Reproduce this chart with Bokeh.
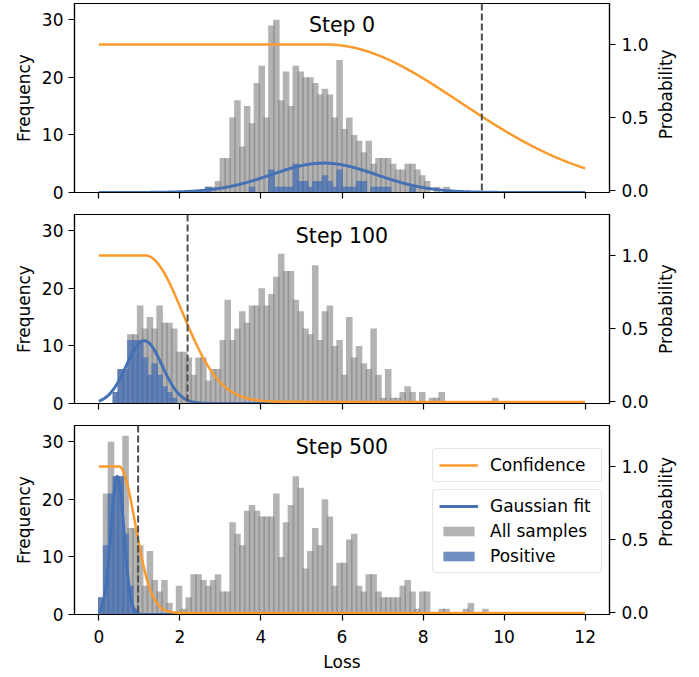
import math
import numpy as np
from bokeh.plotting import figure
from bokeh.models import (Range1d, LinearAxis, FixedTicker, Span, Label, Legend,
                          LegendItem, PrintfTickFormatter)
from bokeh.layouts import column, row
from bokeh.embed import file_html
from bokeh.resources import INLINE

# ---------------- data ----------------
BIN_WIDTH = 0.12            # histogram bins over [0, 12]
titles = ["Step 0", "Step 100", "Step 500"]

# All samples histogram counts (first bin index, then counts)
step0_all_start = 22
step0_all = [1, 1, 2, 6, 6, 13, 16, 8, 15, 12, 19, 22, 13, 29, 30, 16, 21, 15, 22, 21,
             20, 20, 19, 17, 18, 17, 13, 23, 11, 13, 10, 9, 7, 9, 5, 6, 6, 6, 5, 4,
             4, 5, 5, 4, 3, 2, 0, 1, 0, 1]
step100_all_start = 3
step100_all = [2, 6, 6, 12, 12, 17, 13, 15, 13, 17, 14, 14, 13, 9, 9, 8, 5, 8, 8, 4,
               6, 6, 11, 18, 11, 13, 16, 14, 17, 17, 20, 17, 19, 22, 26, 23, 23, 18, 16, 13,
               12, 24, 11, 16, 17, 10, 11, 5, 15, 8, 10, 7, 6, 13, 5, 1, 6, 1, 1, 2,
               3, 2, 0, 2, 0, 1, 1, 2, 0, 0, 0, 0, 0, 0, 0, 0, 0, 0, 1]
step500_all_start = 0
step500_all = [3, 21, 30, 24, 24, 31, 15, 15, 12, 5, 11, 6, 4, 6, 2, 0, 5, 1, 3, 7,
               7, 6, 5, 6, 7, 4, 4, 16, 14, 12, 18, 19, 18, 17, 17, 17, 21, 10, 16, 19,
               24, 22, 8, 11, 15, 12, 20, 17, 5, 9, 9, 13, 14, 5, 4, 7, 7, 4, 3, 3,
               3, 3, 5, 6, 4, 1, 4, 4, 0, 0, 1, 1, 0, 0, 0, 1, 2, 0, 0, 1]

# Positive samples histogram counts
step0_pos_start = 22
step0_pos = [1, 0, 0, 0, 0, 0, 0, 0, 0, 1, 0, 0, 0, 4, 1, 1, 1, 1, 5, 2,
             2, 1, 2, 2, 3, 2, 1, 4, 1, 1, 1, 2, 2, 0, 1, 1, 1, 1, 0, 0,
             0, 0, 1]
step100_pos_start = 3
step100_pos = [2, 6, 6, 11, 11, 11, 8, 5, 7, 5, 3, 2, 1]
step500_pos_start = 0
step500_pos = [3, 12, 21, 24, 24, 14, 5, 1]

# Gaussian fit of the positives (frequency units)
gauss_mu = [5.55, 1.12, 0.46]
gauss_sigma = [1.3, 0.44, 0.16]
gauss_amp = [5.1, 10.9, 24.0]

# Confidence curve (probability): 1 up to conf_mu, Gaussian decay afterwards
conf_mu = [5.6, 1.15, 0.5]
conf_sigma = [3.31, 0.92, 0.40]

# Threshold (dashed line)
threshold = [9.45, 2.19, 0.97]

x_ticks = [0, 2, 4, 6, 8, 10, 12]
freq_ticks = [0, 10, 20, 30]
prob_ticks = [0.0, 0.5, 1.0]

all_counts = [(step0_all_start, step0_all), (step100_all_start, step100_all),
              (step500_all_start, step500_all)]
pos_counts = [(step0_pos_start, step0_pos), (step100_pos_start, step100_pos),
              (step500_pos_start, step500_pos)]

# ---------------- style ----------------
FONT = "DejaVu Sans"
FS = "17px"
GRAY = "#808080"
BLUE_BAR = "#4C72B0"
BLUE_LINE = "#4470B4"
ORANGE = "#FA9A2C"
BAR_W = BIN_WIDTH * 1.35

X0, X1 = -0.6, 12.6
x_range = Range1d(X0, X1)
xs = np.linspace(0, 12, 721)
Y_MAX = 32.8
P0, P1 = -0.011, 1.28
FRAME_W = 535
FRAME_H = 189
LEFT_B = 74
RIGHT_B = 44
LABEL_W = 46
TOPS = [3, 11, 11]
BOTTOMS = [11, 11, 58]


def centers(start, counts):
    return [(start + k + 0.5) * BIN_WIDTH for k in range(len(counts))]


def style_axis(ax):
    ax.axis_line_width = 1.2
    ax.axis_line_color = "black"
    ax.major_tick_line_width = 1.2
    ax.major_tick_out = 6
    ax.major_tick_in = 0
    ax.minor_tick_out = 0
    ax.minor_tick_in = 0
    ax.major_label_text_font = FONT
    ax.major_label_text_font_size = FS
    ax.major_label_text_color = "black"
    ax.axis_label_text_font = FONT
    ax.axis_label_text_font_size = FS
    ax.axis_label_text_font_style = "normal"
    ax.axis_label_text_color = "black"
    ax.major_label_standoff = 5


rows = []
legend_renderers = {}
p3 = None
for i in range(3):
    last = i == 2
    p = figure(frame_width=FRAME_W, frame_height=FRAME_H, x_range=x_range,
               y_range=Range1d(0, Y_MAX), output_backend="svg", toolbar_location=None,
               min_border_left=LEFT_B, min_border_right=RIGHT_B,
               min_border_top=TOPS[i], min_border_bottom=BOTTOMS[i])
    p.extra_y_ranges = {"prob": Range1d(P0, P1)}
    p.xgrid.visible = False
    p.ygrid.visible = False
    p.outline_line_color = "black"
    p.outline_line_width = 1.2
    p.background_fill_color = "white"
    p.border_fill_color = "white"

    # bottom axis
    xa = p.xaxis[0]
    xa.ticker = FixedTicker(ticks=x_ticks)
    style_axis(xa)
    if last:
        xa.axis_label = "Loss"
        xa.axis_label_standoff = 6
        xa.major_label_standoff = 9
    else:
        xa.major_label_overrides = {t: "" for t in x_ticks}
        xa.major_label_standoff = 0

    # left axis
    ya = p.yaxis[0]
    ya.ticker = FixedTicker(ticks=freq_ticks)
    ya.axis_label = "Frequency"
    style_axis(ya)
    ya.axis_label_standoff = 5

    # right axis (its title is drawn in the narrow strip figure beside it)
    yr = LinearAxis(y_range_name="prob", ticker=FixedTicker(ticks=prob_ticks),
                    formatter=PrintfTickFormatter(format="%.1f"))
    style_axis(yr)
    yr.major_label_standoff = 6
    p.add_layout(yr, "right")

    s, c = all_counts[i]
    r_all = p.vbar(x=centers(s, c), width=BAR_W, top=c, bottom=0,
                   fill_color=GRAY, fill_alpha=0.6, line_color=None)
    s, c = pos_counts[i]
    r_pos = p.vbar(x=centers(s, c), width=BAR_W, top=c, bottom=0,
                   fill_color=BLUE_BAR, fill_alpha=0.8, line_color=None)

    g = gauss_amp[i] * np.exp(-(xs - gauss_mu[i]) ** 2 / (2 * gauss_sigma[i] ** 2))
    r_g = p.line(xs, g, line_color=BLUE_LINE, line_width=3)

    p.add_layout(Span(location=threshold[i], dimension="height", line_color="#4d4d4d",
                      line_width=2, line_dash="7 3"))

    conf = np.where(xs <= conf_mu[i], 1.0,
                    np.exp(-(xs - conf_mu[i]) ** 2 / (2 * conf_sigma[i] ** 2)))
    r_c = p.line(xs, conf, line_color=ORANGE, line_width=2.5, y_range_name="prob")

    title_y = Y_MAX - 21 * Y_MAX / FRAME_H
    p.add_layout(Label(x=(X0 + X1) / 2, y=title_y, text=titles[i], text_align="center",
                       text_baseline="alphabetic", text_font=FONT,
                       text_font_size="20.5px", text_color="black"))

    # strip figure holding the right-hand axis title, reading bottom-to-top
    total_h = TOPS[i] + FRAME_H + BOTTOMS[i]
    lf = figure(width=LABEL_W, height=total_h, x_range=Range1d(0, LABEL_W),
                y_range=Range1d(0, total_h), output_backend="svg", toolbar_location=None,
                x_axis_location=None, y_axis_location=None, min_border=0)
    lf.xgrid.visible = False
    lf.ygrid.visible = False
    lf.outline_line_color = None
    lf.background_fill_color = "white"
    lf.border_fill_color = "white"
    lf.add_layout(Label(x=12, y=total_h - TOPS[i] - FRAME_H / 2, text="Probability",
                        angle=math.pi / 2, text_align="center", text_baseline="middle",
                        text_font=FONT, text_font_size=FS, text_color="black"))

    if last:
        legend_renderers = dict(conf=r_c, gauss=r_g, all=r_all, pos=r_pos)
        p3 = p
    rows.append(row(p, lf, spacing=0))


def make_legend(items, loc):
    leg = Legend(items=items, location=loc, margin=0, padding=6, spacing=5,
                 glyph_width=39, glyph_height=12, label_standoff=12,
                 label_height=20, label_width=105,
                 label_text_font=FONT, label_text_font_size=FS,
                 label_text_color="black",
                 border_line_color="#cccccc", border_line_width=1,
                 background_fill_color="white", background_fill_alpha=0.85)
    if "border_radius" in Legend.properties():
        leg.border_radius = 4
    return leg


leg1 = make_legend([LegendItem(label="Confidence", renderers=[legend_renderers["conf"]])],
                   (358, 132))
leg2 = make_legend([LegendItem(label="Gaussian fit", renderers=[legend_renderers["gauss"]]),
                    LegendItem(label="All samples", renderers=[legend_renderers["all"]]),
                    LegendItem(label="Positive", renderers=[legend_renderers["pos"]])],
                   (358, 41))
p3.add_layout(leg1, "center")
p3.add_layout(leg2, "center")

layout = column(*rows, spacing=0)
open("out.html", "w").write(file_html(layout, INLINE))
